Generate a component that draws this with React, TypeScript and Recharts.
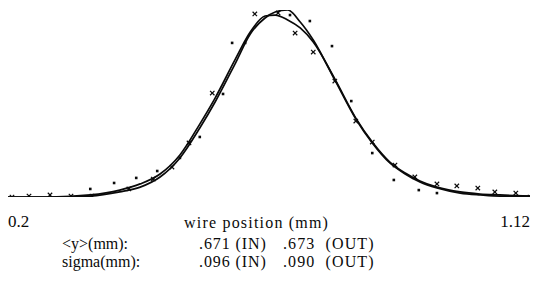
import React from "react";
import { ComposedChart, Line, Scatter, XAxis, YAxis } from "recharts";

// fitted profiles, x in mm, y normalised to the peak
const curveX = [0.2, 0.274, 0.345, 0.397, 0.433, 0.468, 0.503, 0.538, 0.565, 0.6, 0.627, 0.653, 0.671, 0.693, 0.715, 0.738, 0.776, 0.813, 0.842, 0.873, 0.9, 0.926, 0.956, 0.997, 1.032, 1.067, 1.12];
const fitIn = [0, 0, 0.011, 0.037, 0.07, 0.123, 0.225, 0.39, 0.529, 0.733, 0.882, 0.968, 0.973, 0.947, 0.904, 0.829, 0.631, 0.422, 0.294, 0.187, 0.128, 0.086, 0.053, 0.027, 0.016, 0.011, 0.005];
const fitOut = [0, 0, 0.005, 0.027, 0.053, 0.107, 0.209, 0.369, 0.508, 0.711, 0.872, 0.957, 0.989, 1.0, 0.936, 0.84, 0.626, 0.417, 0.289, 0.182, 0.123, 0.08, 0.048, 0.021, 0.011, 0.005, 0.005];

// measured points
const crossX = [0.207, 0.237, 0.274, 0.311, 0.348, 0.413, 0.456, 0.489, 0.519, 0.56, 0.635, 0.676, 0.706, 0.738, 0.776, 0.813, 0.842, 0.882, 0.917, 0.956, 0.991, 1.028, 1.058, 1.095, 1.12];
const crossY = [0, 0.005, 0.011, 0.005, 0.005, 0.043, 0.096, 0.16, 0.289, 0.556, 0.979, 0.984, 0.877, 0.775, 0.62, 0.406, 0.294, 0.171, 0.107, 0.07, 0.059, 0.048, 0.027, 0.021, 0];
const dotX = [0.345, 0.387, 0.426, 0.463, 0.503, 0.538, 0.579, 0.595, 0.618, 0.697, 0.732, 0.771, 0.805, 0.842, 0.88, 0.924, 0.956];
const dotY = [0.043, 0.075, 0.102, 0.139, 0.209, 0.321, 0.551, 0.824, 0.824, 0.973, 0.941, 0.807, 0.513, 0.235, 0.091, 0.037, 0.021];

const xTicks = [0.2, 1.12];
const statRows = [
  { name: "<y>(mm):", inVal: ".671 (IN)", outVal: ".673  (OUT)" },
  { name: "sigma(mm):", inVal: ".096 (IN)", outVal: ".090  (OUT)" },
];

const INK = "#0a0a0a";
const FONT = "'Liberation Serif', 'Times New Roman', serif";

const fitData = curveX.map((x, i) => ({ x, a: fitIn[i], b: fitOut[i] }));
const crosses = crossX.map((x, i) => ({ x, y: crossY[i] }));
const dots = dotX.map((x, i) => ({ x, y: dotY[i] }));

const Cross = (p: any) => (
  <g stroke={INK} strokeWidth={1.2}>
    <line x1={p.cx - 2.2} y1={p.cy - 2.2} x2={p.cx + 2.2} y2={p.cy + 2.2} />
    <line x1={p.cx - 2.2} y1={p.cy + 2.2} x2={p.cx + 2.2} y2={p.cy - 2.2} />
  </g>
);

const Dot = (p: any) => <rect x={p.cx - 1.3} y={p.cy - 1.3} width={2.6} height={2.6} fill={INK} />;

const Tick = (p: any) => {
  const first = p.payload.value === xTicks[0];
  return (
    <text x={p.x} y={p.y} dy={22} textAnchor={first ? "start" : "end"} fontFamily={FONT} fontSize={17} fill={INK}>
      {String(p.payload.value)}
    </text>
  );
};

const txt = (left: number, top: number, s: string, spacing = 0) => (
  <div style={{ position: "absolute", left, top, fontFamily: FONT, fontSize: 16, lineHeight: "16px", letterSpacing: spacing, color: INK, whiteSpace: "pre" }}>
    {s}
  </div>
);

export default function App() {
  return (
    <div style={{ position: "absolute", left: 0, top: 0, width: 537, height: 284, background: "#fff" }}>
      <ComposedChart width={537} height={284} data={fitData} margin={{ top: 10, right: 7, bottom: 57, left: 8 }}>
        <XAxis
          dataKey="x"
          type="number"
          domain={[0.2, 1.12]}
          ticks={xTicks}
          interval={0}
          tick={<Tick />}
          axisLine={false}
          tickLine={false}
          height={30}
          allowDataOverflow
        />
        <YAxis hide domain={[0, 1]} allowDataOverflow />
        <Line type="monotone" dataKey="a" stroke={INK} strokeWidth={1.7} dot={false} isAnimationActive={false} />
        <Line type="monotone" dataKey="b" stroke={INK} strokeWidth={1.7} dot={false} isAnimationActive={false} />
        <Scatter data={crosses} dataKey="y" shape={<Cross />} isAnimationActive={false} />
        <Scatter data={dots} dataKey="y" shape={<Dot />} isAnimationActive={false} />
      </ComposedChart>
      {txt(184, 215, "wire position (mm)", 1.2)}
      {statRows.map((r, i) => (
        <React.Fragment key={r.name}>
          {txt(62, 236 + i * 18, r.name)}
          {txt(199, 236 + i * 18, r.inVal, 0.9)}
          {txt(283, 236 + i * 18, r.outVal, 1.1)}
        </React.Fragment>
      ))}
    </div>
  );
}
